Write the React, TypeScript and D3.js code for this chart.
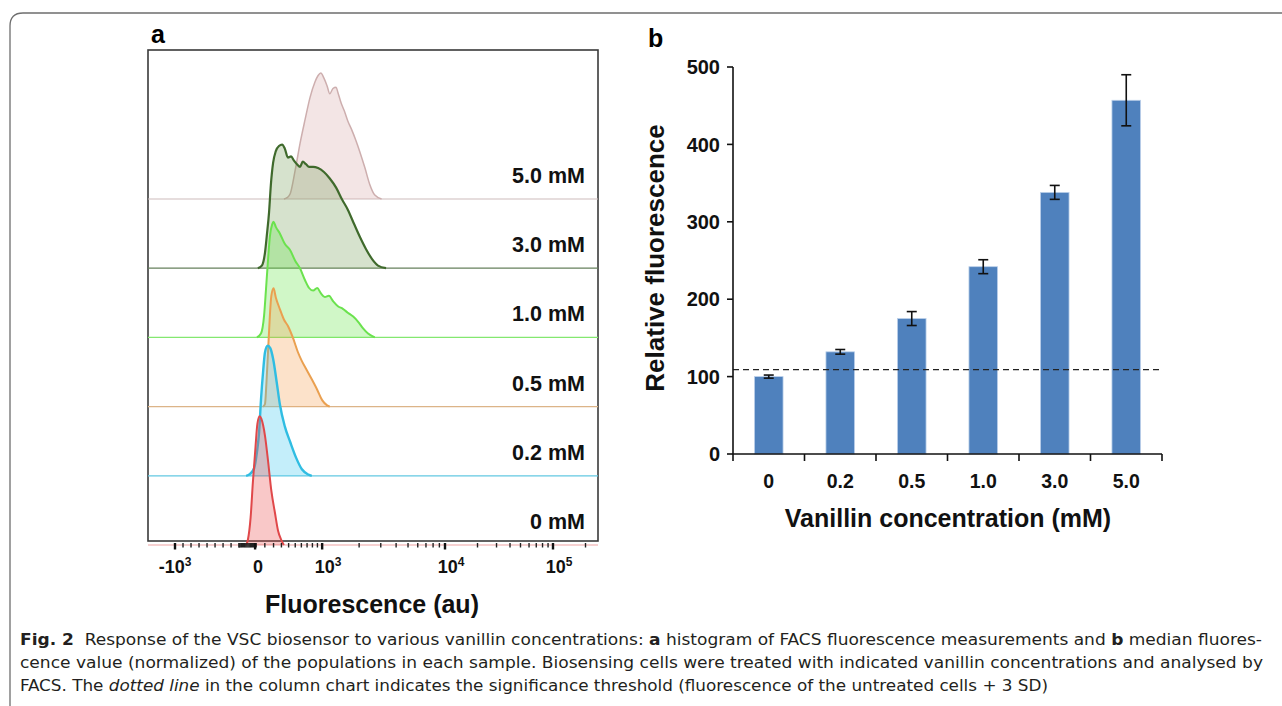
import React from "react";
import * as d3 from "d3";

// panel a: FACS histograms, [channel (0-1000), % of mode]
const rowLabels = ["0 mM", "0.2 mM", "0.5 mM", "1.0 mM", "3.0 mM", "5.0 mM"];

const hist0 = [
  [218, 0], [222, 4], [228, 21], [233, 48], [239, 76], [243, 93], [248, 99],
  [252, 97], [260, 84], [267, 64], [274, 42], [282, 25], [289, 11], [296, 4], [302, 0],
];
const hist02 = [
  [218, 0], [227, 1.5], [236, 6], [242, 18], [247, 34], [251, 58], [256, 81],
  [260, 95], [266, 100], [272, 98], [278, 90], [286, 72], [293, 55], [304, 38],
  [316, 26], [329, 14], [342, 5], [356, 1], [364, 0],
];
const hist05 = [
  [256, 0], [260, 2], [263, 17], [267, 44], [271, 71], [274, 85], [279, 91],
  [284, 84], [293, 75], [302, 67], [311, 62], [322, 53], [333, 42], [342, 35],
  [353, 28], [364, 21], [376, 13], [387, 5], [398, 1], [404, 0],
];
const hist10 = [
  [242, 0], [251, 3], [258, 17], [262, 36], [267, 61], [271, 78], [276, 87],
  [279, 89], [284, 85], [293, 80], [304, 72], [316, 67], [327, 59], [338, 53],
  [349, 44], [358, 38], [367, 36], [376, 38], [384, 34], [393, 31], [402, 32],
  [411, 28], [422, 24], [433, 22], [444, 19], [456, 16], [467, 12], [478, 7],
  [489, 3], [504, 0],
];
const hist30 = [
  [244, 0], [253, 2], [260, 12], [264, 25], [269, 43], [273, 64], [278, 81],
  [284, 90], [291, 94], [298, 95], [304, 92], [311, 85], [318, 86], [324, 83],
  [331, 80], [338, 78], [344, 82], [351, 80], [358, 78], [367, 78], [378, 77],
  [391, 74], [404, 69], [418, 62], [431, 53], [444, 45], [458, 34], [471, 24],
  [484, 15], [498, 7], [511, 2], [529, 0],
];
const hist50 = [
  [302, 0], [309, 1], [316, 4], [327, 22], [338, 43], [349, 61], [360, 78],
  [371, 90], [378, 95], [384, 97], [391, 93], [398, 87], [404, 81], [411, 85],
  [418, 86], [422, 82], [429, 74], [436, 68], [444, 60], [453, 53], [462, 45],
  [471, 36], [482, 24], [493, 11], [504, 3], [519, 0],
];
const histograms = [hist0, hist02, hist05, hist10, hist30, hist50];

const lineColors = ["#e0484a", "#30bde2", "#eaa050", "#6be24e", "#3f6a2c", "#cdaeae"];
const fillColors = ["#ec4848", "#3cc8f0", "#f5a050", "#64e646", "#78a05a", "#d8a8a8"];
const baseColors = ["#f0a4a4", "#62c8e2", "#dcb488", "#84e870", "#66805c", "#cdbcbc"];
const lineWidths = [2, 2.4, 2, 2, 2.2, 1.5];

const axisTickValues = [-1000, 0, 1000, 10000, 100000];
const axisTickBase = ["-10", "0", "10", "10", "10"];
const axisTickExp = ["3", "", "3", "4", "5"];

// panel b: median fluorescence
const concentrations = ["0", "0.2", "0.5", "1.0", "3.0", "5.0"];
const relFluorescence = [100, 132, 175, 242, 338, 457];
const relFluorescenceSD = [2, 3, 9, 9, 9, 33];
const threshold = 109;
const yTicksB = [0, 100, 200, 300, 400, 500];

const captionLines = [
  [["b", "Fig. 2"], ["n", "  Response of the VSC biosensor to various vanillin concentrations: "], ["b", "a"], ["n", " histogram of FACS fluorescence measurements and "], ["b", "b"], ["n", " median fluores-"]],
  [["n", "cence value (normalized) of the populations in each sample. Biosensing cells were treated with indicated vanillin concentrations and analysed by"]],
  [["n", "FACS. The "], ["i", "dotted line"], ["n", " in the column chart indicates the significance threshold (fluorescence of the untreated cells + 3 SD)"]],
];

const font = "'Liberation Sans', Arial, Helvetica, sans-serif";
const captionFont = "'Liberation Sans Narrow', 'DejaVu Sans Condensed', 'Liberation Sans', sans-serif";

export default function App() {
  // ---- panel a scales ----
  const chan = d3.scaleLinear().domain([0, 1000]).range([148, 598]);
  const rowY = d3.scalePoint<string>().domain(rowLabels).range([545, 199]);
  const hY = d3.scaleLinear().domain([0, 100]).range([0, 130]);

  // biexponential-like display: linear below 0, compressed to 10^3, log above
  const negScale = d3.scaleLinear().domain([-1000, 0]).range([60, 238]);
  const lowScale = d3.scaleSymlog().constant(800).domain([0, 1000]).range([238, 387]);
  const logScale = d3.scaleLog().domain([1e3, 1e4, 1e5]).range([387, 660, 900]);
  const au = (v: number) => chan(v <= 0 ? negScale(v) : v <= 1000 ? lowScale(v) : logScale(v));

  const minorTicks = [
    ...d3.range(-900, -100, 100),
    ...d3.range(-200, 20, 14),
    ...d3.range(100, 1000, 100),
    ...d3.range(2000, 10000, 1000),
    ...d3.range(20000, 100000, 10000),
    200000,
  ];

  const boxTop = 50, boxBottom = 541, axisY = 543;

  // ---- panel b scales ----
  const xB = d3.scaleBand<string>().domain(concentrations).range([733, 1162]).paddingInner(0.6).paddingOuter(0.3);
  const yB = d3.scaleLinear().domain([0, 500]).range([454, 67]);
  const step = xB.step();

  const order = [5, 4, 3, 2, 1, 0];

  return (
    <svg width={1282} height={706} style={{ position: "absolute", left: 0, top: 0, background: "#fff" }} fontFamily={font}>
      <rect width={1282} height={706} fill="#fff" />
      {/* outer frame */}
      <path d="M10,706 L10,26 Q10,13 23,13 L1282,13" fill="none" stroke="#6e6e6e" strokeWidth={1.3} />

      {/* ===== panel a ===== */}
      <text x={151} y={43} fontSize={25} fontWeight="bold">a</text>
      <rect x={148} y={boxTop} width={chan(1000) - 148} height={boxBottom - boxTop} fill="#fff" stroke="#3a3a3a" strokeWidth={1.6} />

      {order.map((i) => {
        const base = rowY(rowLabels[i]) as number;
        const data = histograms[i];
        const area = d3.area<number[]>().x((d) => chan(d[0])).y0(base).y1((d) => base - hY(d[1])).curve(d3.curveMonotoneX);
        const line = d3.line<number[]>().x((d) => chan(d[0])).y((d) => base - hY(d[1])).curve(d3.curveMonotoneX);
        return (
          <g key={rowLabels[i]}>
            <line x1={chan(0)} x2={chan(1000)} y1={base} y2={base} stroke={baseColors[i]} strokeWidth={1.2} />
            <path d={area(data) || ""} fill={fillColors[i]} fillOpacity={i === 5 ? 0.3 : 0.3} />
            <path d={line(data) || ""} fill="none" stroke={lineColors[i]} strokeWidth={lineWidths[i]} strokeLinejoin="round" />
          </g>
        );
      })}

      {rowLabels.map((lab) => (
        <text key={lab} x={585} y={(rowY(lab) as number) - 16} fontSize={21.5} fontWeight="bold" textAnchor="end" fill="#111">
          {lab}
        </text>
      ))}

      {/* panel a axis ticks */}
      {minorTicks.map((v, k) => (
        <line key={"m" + k} x1={au(v)} x2={au(v)} y1={axisY} y2={axisY + 4.5} stroke="#222" strokeWidth={1.4} />
      ))}
      {axisTickValues.map((v) => (
        <line key={"M" + v} x1={au(v)} x2={au(v)} y1={axisY} y2={axisY + 6.5} stroke="#111" strokeWidth={2.4} />
      ))}
      {axisTickValues.map((v, k) => (
        <text key={"t" + v} x={au(v) + (k === 0 ? 0 : k === 1 ? 3 : 6)} y={573} fontSize={18} fontWeight="bold" textAnchor="middle" fill="#111">
          {axisTickBase[k]}
          {axisTickExp[k] && (
            <tspan dy={-7} fontSize={12}>
              {axisTickExp[k]}
            </tspan>
          )}
        </text>
      ))}
      <text x={372} y={613} fontSize={25} fontWeight="bold" textAnchor="middle" fill="#111">
        Fluorescence (au)
      </text>

      {/* ===== panel b ===== */}
      <text x={648} y={47} fontSize={25} fontWeight="bold">b</text>

      {concentrations.map((c, i) => (
        <rect key={c} x={xB(c)} y={yB(relFluorescence[i])} width={xB.bandwidth()} height={yB(0) - yB(relFluorescence[i])} fill="#4f81bd" stroke="#bcd0ea" strokeWidth={0.8} />
      ))}
      {concentrations.map((c, i) => {
        const cx = (xB(c) as number) + xB.bandwidth() / 2;
        const hi = yB(relFluorescence[i] + relFluorescenceSD[i]);
        const lo = yB(relFluorescence[i] - relFluorescenceSD[i]);
        return (
          <g key={"e" + c} stroke="#111" strokeWidth={1.6}>
            <line x1={cx} x2={cx} y1={hi} y2={lo} />
            <line x1={cx - 5} x2={cx + 5} y1={hi} y2={hi} />
            <line x1={cx - 5} x2={cx + 5} y1={lo} y2={lo} />
          </g>
        );
      })}

      {/* threshold */}
      <line x1={733} x2={1162} y1={yB(threshold)} y2={yB(threshold)} stroke="#222" strokeWidth={1.4} strokeDasharray="6 4" />

      {/* axes */}
      <line x1={733} x2={733} y1={yB(500)} y2={yB(0)} stroke="#111" strokeWidth={1.6} />
      <line x1={733} x2={1162} y1={yB(0)} y2={yB(0)} stroke="#111" strokeWidth={1.6} />
      {yTicksB.map((v) => (
        <g key={"y" + v}>
          <line x1={727} x2={733} y1={yB(v)} y2={yB(v)} stroke="#111" strokeWidth={1.6} />
          <text x={720} y={yB(v)} dy="0.36em" fontSize={20} fontWeight="bold" textAnchor="end" fill="#111">
            {v}
          </text>
        </g>
      ))}
      {d3.range(concentrations.length + 1).map((k) => (
        <line key={"xt" + k} x1={733 + k * step} x2={733 + k * step} y1={yB(0)} y2={yB(0) + 7} stroke="#111" strokeWidth={1.6} />
      ))}
      {concentrations.map((c) => (
        <text key={"xl" + c} x={(xB(c) as number) + xB.bandwidth() / 2} y={488} fontSize={19.5} fontWeight="bold" textAnchor="middle" fill="#111">
          {c}
        </text>
      ))}
      <text transform="translate(664,258) rotate(-90)" fontSize={26} fontWeight="bold" textAnchor="middle" fill="#111">
        Relative fluorescence
      </text>
      <text x={948} y={527} fontSize={25} fontWeight="bold" textAnchor="middle" fill="#111">
        Vanillin concentration (mM)
      </text>

      {/* caption */}
      {captionLines.map((parts, li) => (
        <text key={"c" + li} x={20} y={645 + li * 23} fontSize={16.5} fontFamily={captionFont} fill="#231f20"
          textLength={[1242, 1243, 1028][li]} lengthAdjust="spacingAndGlyphs" xmlSpace="preserve">
          {parts.map((p, k) => (
            <tspan key={k} fontWeight={p[0] === "b" ? "bold" : "normal"} fontStyle={p[0] === "i" ? "italic" : "normal"}>
              {p[1]}
            </tspan>
          ))}
        </text>
      ))}
    </svg>
  );
}
